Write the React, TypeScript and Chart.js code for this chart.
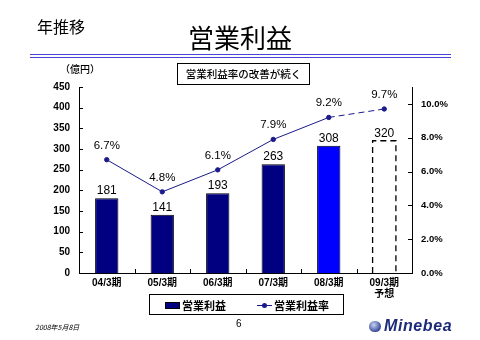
import React, { useEffect, useRef } from "react";
import { Chart, registerables } from "chart.js";

Chart.register(...registerables);

const categories: (string | string[])[] = ["04/3期", "05/3期", "06/3期", "07/3期", "08/3期", ["09/3期", "予想"]];
const profit = [181, 141, 193, 263, 308, 320];
const margin = [6.7, 4.8, 6.1, 7.9, 9.2, 9.7];
const barColors = ["#000080", "#000080", "#000080", "#000080", "#0000FF", "#FFFFFF"];
const isForecast = [false, false, false, false, false, true];
const leftTicks = { min: 0, max: 450, step: 50 };
const rightTicks = { min: 0, max: 11, step: 2, shownMax: 10 };

const NUM_FONT = '"Liberation Sans", Arial, "Noto Sans CJK JP", sans-serif';
const JP_FONT = '"Noto Sans CJK JP", "Liberation Sans", sans-serif';

const overlayPlugin = {
  id: "overlay",
  afterDatasetsDraw(chart: any) {
    const ctx = chart.ctx;
    const barMeta = chart.getDatasetMeta(0);
    const lineMeta = chart.getDatasetMeta(1);
    ctx.save();
    // dashed forecast bar
    barMeta.data.forEach((el: any, i: number) => {
      if (!isForecast[i]) return;
      const p = el.getProps(["x", "y", "base", "width"], true);
      ctx.strokeStyle = "#000";
      ctx.lineWidth = 1.3;
      ctx.setLineDash([6, 4]);
      ctx.beginPath();
      ctx.moveTo(p.x - p.width / 2, p.base);
      ctx.lineTo(p.x - p.width / 2, p.y);
      ctx.lineTo(p.x + p.width / 2, p.y);
      ctx.lineTo(p.x + p.width / 2, p.base);
      ctx.stroke();
      ctx.setLineDash([]);
    });
    ctx.fillStyle = "#000";
    ctx.textAlign = "center";
    ctx.textBaseline = "alphabetic";
    ctx.font = `12px ${NUM_FONT}`;
    barMeta.data.forEach((el: any, i: number) => {
      const p = el.getProps(["x", "y"], true);
      ctx.fillText(String(profit[i]), p.x, p.y - 4);
    });
    ctx.font = `11.5px ${NUM_FONT}`;
    lineMeta.data.forEach((el: any, i: number) => {
      const p = el.getProps(["x", "y"], true);
      ctx.fillText(margin[i].toFixed(1) + "%", p.x, p.y - 11);
    });
    ctx.restore();
  },
  afterDraw(chart: any) {
    const ctx = chart.ctx;
    const { left, right, bottom } = chart.chartArea;
    ctx.save();
    ctx.strokeStyle = "#000";
    ctx.lineWidth = 1;
    ctx.beginPath();
    chart.scales.y.ticks.forEach((t: any) => {
      const py = Math.round(chart.scales.y.getPixelForValue(t.value)) + 0.5;
      ctx.moveTo(left, py);
      ctx.lineTo(left + 4, py);
    });
    chart.scales.y1.ticks.forEach((t: any) => {
      const py = Math.round(chart.scales.y1.getPixelForValue(t.value)) + 0.5;
      ctx.moveTo(right, py);
      ctx.lineTo(right - 4, py);
    });
    const xs = chart.scales.x;
    for (let i = 0; i <= categories.length; i++) {
      const px = Math.round(xs.getPixelForValue(i - 0.5)) + 0.5;
      ctx.moveTo(px, bottom);
      ctx.lineTo(px, bottom - 4);
    }
    ctx.stroke();
    ctx.restore();
  },
};

function ChartCanvas() {
  const ref = useRef<HTMLCanvasElement>(null);
  useEffect(() => {
    if (!ref.current) return;
    const chart = new Chart(ref.current, {
      type: "bar",
      data: {
        labels: categories as any,
        datasets: [
          {
            type: "bar",
            label: "営業利益",
            data: profit,
            backgroundColor: barColors,
            borderColor: isForecast.map((f) => (f ? "rgba(0,0,0,0)" : "#000")),
            borderWidth: 1,
            barPercentage: 0.42,
            categoryPercentage: 1,
            yAxisID: "y",
            order: 2,
          },
          {
            type: "line",
            label: "営業利益率",
            data: margin,
            borderColor: "#1a1a8c",
            backgroundColor: "#1a1a8c",
            borderWidth: 1,
            pointRadius: 2.2,
            pointStyle: "circle",
            yAxisID: "y1",
            order: 1,
            segment: {
              borderDash: (c: any) => (isForecast[c.p1DataIndex] ? [6, 4] : undefined),
            },
          } as any,
        ],
      },
      options: {
        responsive: false,
        animation: false,
        layout: { padding: { top: 87, left: 0, right: 0, bottom: 0 } },
        plugins: { legend: { display: false }, tooltip: { enabled: false } },
        scales: {
          x: {
            grid: { display: false, drawTicks: false },
            border: { display: true, color: "#000", width: 1 },
            ticks: {
              color: "#000",
              padding: 5,
              font: { family: NUM_FONT, size: 10, weight: "bold", lineHeight: 1.1 },
              maxRotation: 0,
              autoSkip: false,
            },
            afterFit: (s: any) => {
              s.height = 67;
            },
          },
          y: {
            position: "left",
            min: leftTicks.min,
            max: leftTicks.max,
            grid: { display: false, drawTicks: false },
            border: { display: true, color: "#000", width: 1 },
            ticks: {
              stepSize: leftTicks.step,
              color: "#000",
              padding: 9,
              font: { family: NUM_FONT, size: 10, weight: "bold" },
            },
            afterFit: (s: any) => {
              s.width = 79;
            },
          },
          y1: {
            position: "right",
            min: rightTicks.min,
            max: rightTicks.max,
            grid: { display: false, drawTicks: false },
            border: { display: true, color: "#000", width: 1 },
            ticks: {
              stepSize: rightTicks.step,
              color: "#000",
              padding: 9,
              font: { family: NUM_FONT, size: 9.5, weight: "bold" },
              callback: (v: any) => Number(v).toFixed(1) + "%",
            },
            afterBuildTicks: (s: any) => {
              s.ticks = s.ticks.filter((t: any) => t.value <= rightTicks.shownMax);
            },
            afterFit: (s: any) => {
              s.width = 68;
            },
          },
        },
      },
      plugins: [overlayPlugin],
    });
    return () => chart.destroy();
  }, []);
  return (
    <canvas
      ref={ref}
      width={480}
      height={340}
      style={{ position: "absolute", left: 0, top: 0, width: 480, height: 340 }}
    />
  );
}

const abs = (s: React.CSSProperties): React.CSSProperties => ({ position: "absolute", whiteSpace: "nowrap", ...s });

export default function App() {
  return (
    <div style={{ position: "absolute", left: 0, top: 0, width: 480, height: 340, background: "#fff", overflow: "hidden" }}>
      <ChartCanvas />
      <div style={abs({ left: 37, top: 16, fontFamily: JP_FONT, fontSize: 16, lineHeight: "20px", color: "#000" })}>年推移</div>
      <div style={abs({ left: 0, width: 480, top: 22, textAlign: "center", fontFamily: JP_FONT, fontSize: 26, lineHeight: "30px", color: "#000" })}>営業利益</div>
      <div style={abs({ left: 30, top: 54, width: 421, height: 1, background: "#4646d6" })} />
      <div style={abs({ left: 30, top: 57, width: 421, height: 1, background: "#4646d6" })} />
      <div style={abs({ left: 60, top: 62, fontFamily: JP_FONT, fontSize: 10, lineHeight: "14px", fontWeight: 500, color: "#000" })}>（億円）</div>
      <div
        style={abs({
          left: 177,
          top: 63,
          width: 131,
          height: 20,
          border: "1px solid #000",
          textAlign: "center",
          fontFamily: JP_FONT,
          fontSize: 10.5,
          lineHeight: "20px",
          fontWeight: 500,
          color: "#000",
        })}
      >
        営業利益率の改善が続く
      </div>
      <div style={abs({ left: 149, top: 294, width: 193, height: 19, border: "1px solid #000" })} />
      <div style={abs({ left: 165, top: 302, width: 15, height: 7, background: "#000080", border: "1px solid #000", boxSizing: "border-box" })} />
      <div style={abs({ left: 182, top: 297, fontFamily: JP_FONT, fontSize: 11, lineHeight: "16px", fontWeight: 700, color: "#000" })}>営業利益</div>
      <div style={abs({ left: 257, top: 305, width: 15, height: 1, background: "#1a1a8c" })} />
      <div style={abs({ left: 262, top: 303, width: 5, height: 5, borderRadius: 3, background: "#1a1a8c" })} />
      <div style={abs({ left: 274, top: 297, fontFamily: JP_FONT, fontSize: 11, lineHeight: "16px", fontWeight: 700, color: "#000" })}>営業利益率</div>
      <div style={abs({ left: 35, top: 322, fontFamily: JP_FONT, fontSize: 7, lineHeight: "10px", fontStyle: "italic", color: "#000" })}>2008年5月8日</div>
      <div style={abs({ left: 236, top: 317, fontFamily: NUM_FONT, fontSize: 10, lineHeight: "14px", color: "#000" })}>6</div>
      <div
        style={abs({
          left: 369,
          top: 321,
          width: 12,
          height: 11,
          borderRadius: 6,
          background: "radial-gradient(circle at 40% 35%, #c8d4f0, #3a4c9a 70%)",
        })}
      />
      <div
        style={abs({
          left: 384,
          top: 316,
          fontFamily: NUM_FONT,
          fontSize: 16,
          lineHeight: "20px",
          fontWeight: 700,
          fontStyle: "italic",
          color: "#1c2a78",
          letterSpacing: 0.6,
        })}
      >
        Minebea
      </div>
    </div>
  );
}
